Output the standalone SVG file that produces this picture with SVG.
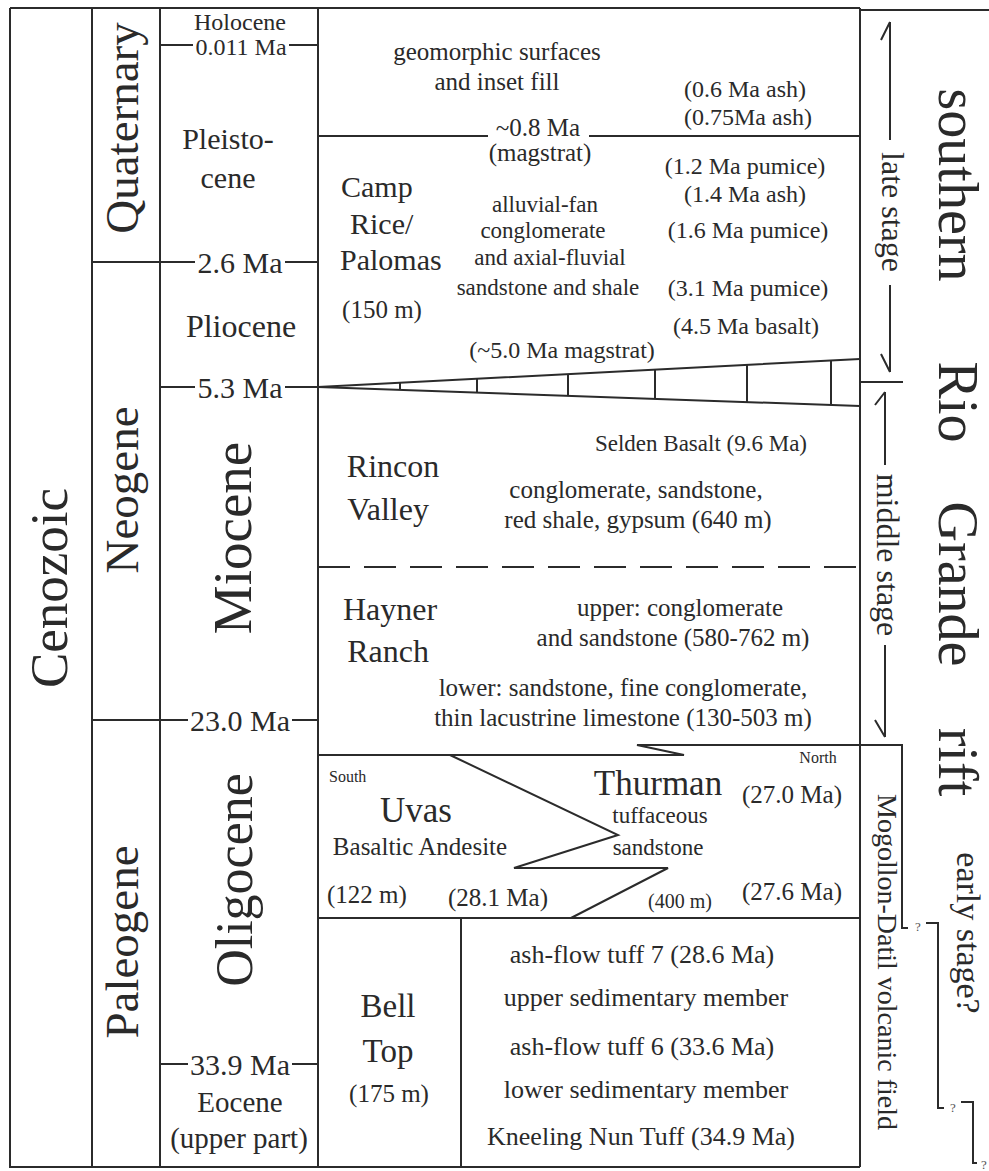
<svg xmlns="http://www.w3.org/2000/svg" width="989" height="1171" viewBox="0 0 989 1171">
<style>
.t{font-family:"Liberation Serif","Times New Roman",serif;fill:#2a2a2a;text-anchor:middle}
.s{text-anchor:start}
.q{fill:#555;font-size:13px}
.ln{stroke:#2b2b2b;stroke-width:2;fill:none}
.dash{stroke-dasharray:32 14}
</style>
<rect width="989" height="1171" fill="#fff"/>
<g id="frame" class="ln">
<path d="M10,8 H860 M860,10 H989 M10,8 V1167 H860 M92,8 V1167 M160,8 V1167 M318,8 V1167 M860,8 V1167"/>
<path d="M92,262 H160 M92,720 H160"/>
</g>
<g id="era" class="t">
<text transform="translate(67,588) rotate(-90)" font-size="53">Cenozoic</text>
</g>
<g id="periods" class="t" font-size="47">
<text transform="translate(138,128) rotate(-90)">Quaternary</text>
<text transform="translate(138,490) rotate(-90)">Neogene</text>
<text transform="translate(138,942) rotate(-90)">Paleogene</text>
</g>
<g id="epochs">
<g class="ln"><path d="M160,45 H193 M289,45 H318 M160,262 H195 M285,262 H318 M160,387 H195 M285,387 H318 M160,720 H188 M292,720 H318 M160,1064 H188 M292,1064 H318"/></g>
<g class="t">
<text x="240" y="30" font-size="24">Holocene</text>
<text x="241" y="55" font-size="24">0.011 Ma</text>
<text x="228" y="149" font-size="30">Pleisto-</text>
<text x="228" y="188" font-size="30">cene</text>
<text x="240" y="273" font-size="30">2.6 Ma</text>
<text x="241" y="337" font-size="32">Pliocene</text>
<text x="240" y="398" font-size="30">5.3 Ma</text>
<text transform="translate(251,538) rotate(-90)" font-size="55">Miocene</text>
<text x="240" y="731" font-size="30">23.0 Ma</text>
<text transform="translate(252,880) rotate(-90)" font-size="52">Oligocene</text>
<text x="240" y="1075" font-size="30">33.9 Ma</text>
<text x="240" y="1112" font-size="29">Eocene</text>
<text x="239" y="1148" font-size="29">(upper part)</text>
</g>
</g>
<g id="inset-fill" class="t" font-size="25">
<text x="497" y="60">geomorphic surfaces</text>
<text x="497" y="90">and inset fill</text>
<text x="745" y="97" font-size="24">(0.6 Ma ash)</text>
<text x="748" y="125" font-size="24">(0.75Ma ash)</text>
<path class="ln" d="M318,136 H488 M589,136 H860"/>
<text x="538" y="136">~0.8 Ma</text>
<text x="540" y="161">(magstrat)</text>
</g>
<g id="camp-rice" class="t">
<text class="t s" x="341" y="197" font-size="30">Camp</text>
<text class="t s" x="350" y="234" font-size="30">Rice/</text>
<text class="t s" x="340" y="270" font-size="30">Palomas</text>
<text x="382" y="318" font-size="25">(150 m)</text>
<text x="545" y="212" font-size="23">alluvial-fan</text>
<text x="543" y="238" font-size="23">conglomerate</text>
<text x="550" y="265" font-size="23">and axial-fluvial</text>
<text x="548" y="295" font-size="23">sandstone and shale</text>
<text x="745" y="174" font-size="24">(1.2 Ma pumice)</text>
<text x="745" y="202" font-size="24">(1.4 Ma ash)</text>
<text x="748" y="238" font-size="24">(1.6 Ma pumice)</text>
<text x="748" y="296" font-size="24">(3.1 Ma pumice)</text>
<text x="746" y="334" font-size="24">(4.5 Ma basalt)</text>
<text x="562" y="358" font-size="24">(~5.0 Ma magstrat)</text>
</g>
<g id="hiatus-wedge" class="ln">
<path d="M318,387 L860,359 M318,387 L860,406"/>
<path d="M400,382.8 V389.9 M477,378.8 V392.6 M568,374.1 V395.8 M655,369.6 V398.8 M747,364.8 V402.1 M831,360.5 V405"/>
</g>
<g id="rincon-valley" class="t">
<text x="393" y="477" font-size="32">Rincon</text>
<text x="388" y="520" font-size="32">Valley</text>
<text x="701" y="451" font-size="23">Selden Basalt (9.6 Ma)</text>
<text x="636" y="498" font-size="25">conglomerate, sandstone,</text>
<text x="638" y="528" font-size="25">red shale, gypsum (640 m)</text>
<path class="ln dash" d="M318,567 H860"/>
</g>
<g id="hayner-ranch" class="t">
<text x="390" y="620" font-size="32">Hayner</text>
<text x="388" y="662" font-size="32">Ranch</text>
<text x="680" y="616" font-size="25">upper: conglomerate</text>
<text x="673" y="646" font-size="25">and sandstone (580-762 m)</text>
<text x="623" y="696" font-size="25">lower: sandstone, fine conglomerate,</text>
<text x="623" y="726" font-size="25">thin lacustrine limestone (130-503 m)</text>
</g>
<g id="uvas-thurman" class="t">
<path class="ln" d="M318,755 H684 L637,745 H860 M450,755 L618,835 L514,868 H668 L571,918 M318,918 H860"/>
<text class="t s" x="329" y="782" font-size="16">South</text>
<text x="416" y="822" font-size="35">Uvas</text>
<text x="420" y="855" font-size="25">Basaltic Andesite</text>
<text class="t s" x="327" y="903" font-size="25">(122 m)</text>
<text x="498" y="906" font-size="25">(28.1 Ma)</text>
<text x="658" y="795" font-size="35">Thurman</text>
<text x="660" y="823" font-size="23">tuffaceous</text>
<text x="658" y="855" font-size="23">sandstone</text>
<text x="680" y="908" font-size="20">(400 m)</text>
<text x="818" y="763" font-size="16">North</text>
<text x="792" y="803" font-size="25">(27.0 Ma)</text>
<text x="792" y="900" font-size="25">(27.6 Ma)</text>
</g>
<g id="bell-top" class="t">
<path class="ln" d="M461,918 V1167"/>
<text x="388" y="1017" font-size="33">Bell</text>
<text x="388" y="1062" font-size="33">Top</text>
<text x="389" y="1102" font-size="25">(175 m)</text>
<text x="642" y="963" font-size="26">ash-flow tuff 7 (28.6 Ma)</text>
<text x="646" y="1006" font-size="26">upper sedimentary member</text>
<text x="642" y="1055" font-size="26">ash-flow tuff 6 (33.6 Ma)</text>
<text x="646" y="1098" font-size="26">lower sedimentary member</text>
<text x="641" y="1145" font-size="26">Kneeling Nun Tuff (34.9 Ma)</text>
</g>
<g id="connectors" class="ln">
<path d="M890,22 V140 M890,285 V372 M890,22 L881,40 M890,372 L881,354"/>
<path d="M860,382 H903"/>
<path d="M885,392 V465 M885,645 V737 M885,392 L875,405 M885,737 L875,720"/>
<path d="M860,745 H902 V928 H908 M926,923 H938 V1108 H944 M961,1102 H973 V1163 H977"/>
</g>
<g id="rift-stages" class="t">
<text transform="translate(882,212) rotate(90)" font-size="32">late stage</text>
<text transform="translate(877,555) rotate(90)" font-size="32">middle stage</text>
<text transform="translate(957,933) rotate(90)" font-size="34">early stage?</text>
<text class="t q" x="918" y="931">?</text>
<text class="t q" x="953" y="1112">?</text>
<text class="t q" x="984" y="1169" font-size="12">?</text>
</g>
<g id="volcanic-field" class="t">
<text transform="translate(878,962) rotate(90)" font-size="28">Mogollon-Datil volcanic field</text>
</g>
<g id="rift-name" class="t" font-size="56">
<text transform="translate(939,185) rotate(90)">southern</text>
<text transform="translate(939,402) rotate(90)">Rio</text>
<text transform="translate(939,584) rotate(90)">Grande</text>
<text transform="translate(939,762) rotate(90)">rift</text>
</g>
</svg>
